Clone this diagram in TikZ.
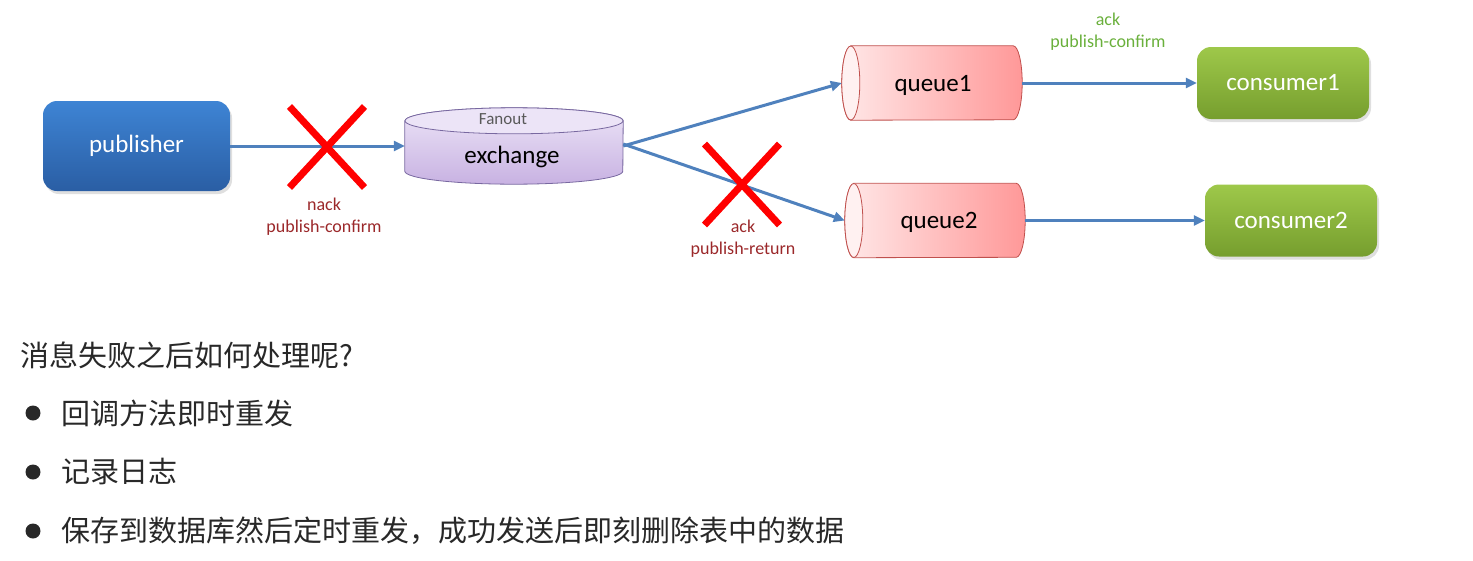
\documentclass[tikz,border=0pt]{standalone}
\usepackage{fontspec}
\setmainfont{Carlito}
\newfontfamily\cjk{Noto Sans CJK SC}
\usepackage{tikz}
\usetikzlibrary{arrows.meta, positioning, calc, shapes.misc, shadows, backgrounds}
\usepackage{xcolor}
\definecolor{flowblue}{RGB}{79,129,189}
\definecolor{pubtop}{RGB}{62,132,212}
\definecolor{pubbot}{RGB}{42,94,164}
\definecolor{contop}{RGB}{158,200,74}
\definecolor{conbot}{RGB}{118,158,46}
\definecolor{qleft}{RGB}{255,232,232}
\definecolor{qright}{RGB}{255,152,152}
\definecolor{qline}{RGB}{192,80,77}
\definecolor{extop}{RGB}{236,228,247}
\definecolor{exbot}{RGB}{200,178,226}
\definecolor{exline}{RGB}{120,104,160}
\definecolor{failred}{RGB}{155,40,42}
\definecolor{okgreen}{RGB}{106,176,60}
\definecolor{bodytext}{RGB}{40,40,40}

\begin{document}
\begin{tikzpicture}[
    x=1pt, y=-1pt,
    >=Latex,
    every node/.style={inner sep=0pt},
    box/.style={
        rectangle,
        rounded corners=14pt,
        minimum width=172pt,
        minimum height=72pt,
        text=white,
        font={\fontsize{25}{30}\selectfont},
        drop shadow={opacity=0.25, shadow xshift=2pt, shadow yshift=-3pt}
    },
    pubbox/.style={box, minimum width=187pt, minimum height=90pt,
        top color=pubtop, bottom color=pubbot},
    conbox/.style={box, top color=contop, bottom color=conbot},
    queuebox/.style={minimum width=180pt, minimum height=74pt},
    queuefill/.style={left color=qleft, right color=qright, draw=qline, line width=0.8pt},
    queueend/.style={fill=qleft!60!white, draw=qline, line width=0.8pt},
    exfill/.style={top color=extop, bottom color=exbot, draw=exline, line width=0.8pt},
    exend/.style={fill=extop, draw=exline, line width=0.8pt},
    boxtitle/.style={font={\fontsize{25}{30}\selectfont}},
    arrow/.style={
        -{Triangle[length=11pt, width=10pt]},
        line width=3pt,
        draw=flowblue
    },
    crossmark/.style={cross out, draw=red, line width=7pt, minimum width=68pt, minimum height=74pt},
    lab/.style={font={\fontsize{18}{22}\selectfont}, align=center},
    cjktext/.style={font={\cjk\fontsize{29}{34}\selectfont}, text=bodytext, anchor=west},
    bulletdot/.style={circle, fill=bodytext, minimum size=15pt}
]
\useasboundingbox (0,0) rectangle (1473,560);

% flow diagram
\node[pubbox] (pub) at (136.5,146) {publisher};
\node[minimum width=218pt, minimum height=76pt] (ex) at (514,146) {};
\node[boxtitle] (exname) at (512,157) {exchange};
\node[font={\fontsize{17}{20}\selectfont}, text=black!65] (fanout) at (503,119) {Fanout};
\node[queuebox] (q1) at (932,83) {};
\node[boxtitle] (q1name) at (933,85) {queue1};
\node[queuebox] (q2) at (935,220.5) {};
\node[boxtitle] (q2name) at (939,222.5) {queue2};
\node[conbox] (c1) at (1283,83) {consumer1};
\node[conbox] (c2) at (1291,220.5) {consumer2};

% cylinders behind the texts
\begin{scope}[on background layer]
\shade[exfill] ([yshift=-13pt]ex.north west) -- ([yshift=13pt]ex.south west)
    arc[start angle=180, end angle=360, x radius=109pt, y radius=13pt]
    -- ([yshift=-13pt]ex.north east)
    arc[start angle=0, end angle=180, x radius=109pt, y radius=13pt] -- cycle;
\filldraw[exend] ([yshift=-13pt]ex.north) ellipse [x radius=109pt, y radius=13pt];
\foreach \q in {q1,q2}{
    \shade[queuefill] ([xshift=9pt]\q.north west) -- ([xshift=-9pt]\q.north east)
        arc[start angle=90, end angle=-90, x radius=9pt, y radius=37pt]
        -- ([xshift=9pt]\q.south west)
        arc[start angle=270, end angle=90, x radius=9pt, y radius=37pt] -- cycle;
    \filldraw[queueend] ([xshift=9pt]\q.west) ellipse [x radius=9pt, y radius=37pt];
}
\end{scope}

\draw[arrow] (pub.east) -- (ex.west);
\draw[arrow] (ex.east) -- (q1.west);
\draw[arrow] ([yshift=2pt]ex.east) -- (q2.west);
\draw[arrow] (q1.east) -- (c1.west);
\draw[arrow] (q2.east) -- (c2.west);

% failures and acks
\node[crossmark] (nackx) at (327,147) {};
\node[lab, text=failred] (nacklab) at (324,217) {nack\\publish-confirm};
\node[crossmark] (retx) at (742,184.5) {};
\node[lab, text=failred] (retlab) at (743,239) {ack\\publish-return};
\node[lab, text=okgreen] (acklab) at (1108,32) {ack\\publish-confirm};

% notes
\node[cjktext] (question) at (20,355) {消息失败之后如何处理呢?};
\node[bulletdot] (b1) at (33,413) {};
\node[bulletdot] (b2) at (33,472) {};
\node[bulletdot] (b3) at (33,531) {};
\node[cjktext] (item1) at (61,413) {回调方法即时重发};
\node[cjktext] (item2) at (61,472) {记录日志};
\node[cjktext] (item3) at (61,531) {保存到数据库然后定时重发，成功发送后即刻删除表中的数据};
\end{tikzpicture}
\end{document}
